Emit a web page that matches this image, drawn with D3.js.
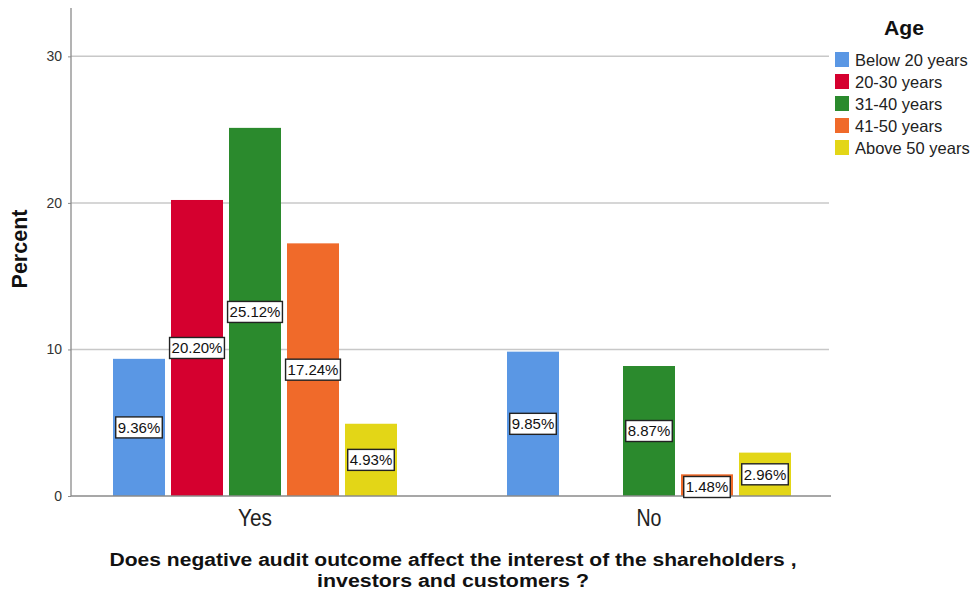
<!DOCTYPE html>
<html>
<head>
<meta charset="utf-8">
<script src="https://cdn.jsdelivr.net/npm/d3@7"></script>
<style>
  html, body { margin: 0; padding: 0; background: #fff; }
  svg { display: block; font-family: "Liberation Sans", Arial, sans-serif; }
</style>
</head>
<body>
<svg id="chart" width="976" height="592"></svg>
<script>
// Answer categories on the x axis
const answers = ["Yes", "No"];
// Age groups (clusters within each answer)
const ageGroups = ["Below 20 years", "20-30 years", "31-40 years", "41-50 years", "Above 50 years"];
const ageColors = ["#5a97e4", "#d5002f", "#2b8a2d", "#f06a2a", "#e3d617"];
// Percent of respondents; null = no respondents in that cell
const yesValues = [9.36, 20.20, 25.12, 17.24, 4.93];
const noValues  = [9.85, null, 8.87, 1.48, 2.96];
const yTicks = [0, 10, 20, 30];

const svg = d3.select("#chart");

const y = d3.scaleLinear().domain([0, 33.3]).range([496, 8]);
const x0 = d3.scaleBand().domain(answers).range([58, 846]).padding(0);
const x1 = d3.scaleBand().domain(ageGroups)
  .range([55, x0.bandwidth() - 55]).paddingInner(0.1034).paddingOuter(0);
const color = d3.scaleOrdinal().domain(ageGroups).range(ageColors);

const plotLeft = 71, plotRight = 830;

// gridlines
svg.append("g").selectAll("line")
  .data(yTicks.filter(d => d > 0))
  .join("line")
  .attr("x1", plotLeft).attr("x2", plotRight - 1)
  .attr("y1", d => y(d)).attr("y2", d => y(d))
  .attr("stroke", "#c8c8c8").attr("stroke-width", 1.5);

// y axis
const yAxis = svg.append("g")
  .attr("transform", `translate(${plotLeft},0)`)
  .call(d3.axisLeft(y).tickValues(yTicks).tickSize(3).tickPadding(6).tickFormat(d3.format("d")));
yAxis.select(".domain").attr("stroke", "#8a8a8a").attr("stroke-width", 1.3)
  .attr("d", `M0,${y(33.3)}V${y(0)}`);
yAxis.selectAll(".tick line").attr("stroke", "#8a8a8a");
yAxis.selectAll(".tick text").attr("fill", "#333").style("font-size", "14px")
  .style("font-family", "'Liberation Sans', Arial, sans-serif");

// data rows
const rows = [];
answers.forEach((a, i) => {
  const vals = i === 0 ? yesValues : noValues;
  ageGroups.forEach((g, j) => {
    if (vals[j] != null) rows.push({ answer: a, group: g, value: vals[j] });
  });
});

// bars
svg.append("g").selectAll("rect")
  .data(rows)
  .join("rect")
  .attr("x", d => x0(d.answer) + x1(d.group))
  .attr("width", x1.bandwidth())
  .attr("y", d => y(d.value))
  .attr("height", d => y(0) - y(d.value))
  .attr("fill", d => color(d.group));

// x baseline
svg.append("line")
  .attr("x1", plotLeft).attr("x2", plotRight + 1)
  .attr("y1", y(0)).attr("y2", y(0))
  .attr("stroke", "#8a8a8a").attr("stroke-width", 1.3);

// value labels in boxes at mid-height of each bar
const labels = svg.append("g").selectAll("g")
  .data(rows)
  .join("g")
  .attr("transform", d => {
    const cx = x0(d.answer) + x1(d.group) + x1.bandwidth() / 2;
    let cy = y(d.value / 2);
    if (y(0) - cy < 11) cy = y(0) - 9;
    return `translate(${cx},${cy})`;
  });
labels.append("text")
  .attr("text-anchor", "middle")
  .attr("dy", "0.36em")
  .style("font-size", "15px")
  .attr("fill", "#111")
  .text(d => d.value.toFixed(2) + "%");
labels.each(function () {
  const g = d3.select(this);
  const bb = g.select("text").node().getBBox();
  g.insert("rect", "text")
    .attr("x", bb.x - 2).attr("y", -10.5)
    .attr("width", bb.width + 4).attr("height", 21)
    .attr("fill", "#fff").attr("stroke", "#222").attr("stroke-width", 1.4);
});

// x tick labels (narrow, tall lettering)
const tickWidths = { Yes: 34, No: 25 };
svg.append("g").selectAll("text")
  .data(answers)
  .join("text")
  .attr("x", d => x0(d) + x0.bandwidth() / 2)
  .attr("y", 526)
  .attr("text-anchor", "middle")
  .attr("textLength", d => tickWidths[d])
  .attr("lengthAdjust", "spacingAndGlyphs")
  .style("font-size", "24px")
  .attr("fill", "#222")
  .text(d => d);

// axis titles
svg.append("text")
  .attr("transform", "translate(27,249) rotate(-90)")
  .attr("text-anchor", "middle")
  .style("font-size", "21.5px").style("font-weight", "bold")
  .attr("fill", "#111")
  .text("Percent");

const titleLines = [
  "Does negative audit outcome affect the interest of the shareholders ,",
  "investors and customers ?"
];
const titleWidths = [687, 272];
svg.append("g").selectAll("text")
  .data(titleLines)
  .join("text")
  .attr("x", 453)
  .attr("y", (d, i) => 566 + i * 21)
  .attr("text-anchor", "middle")
  .attr("textLength", (d, i) => titleWidths[i])
  .attr("lengthAdjust", "spacingAndGlyphs")
  .style("font-size", "18px").style("font-weight", "bold")
  .attr("fill", "#111")
  .text(d => d);

// legend
const legend = svg.append("g").attr("transform", "translate(835,0)");
legend.append("text")
  .attr("x", 69).attr("y", 35)
  .attr("text-anchor", "middle")
  .attr("textLength", 40)
  .attr("lengthAdjust", "spacingAndGlyphs")
  .style("font-size", "20px").style("font-weight", "bold")
  .attr("fill", "#111")
  .text("Age");
const items = legend.selectAll("g.item")
  .data(ageGroups)
  .join("g")
  .attr("class", "item")
  .attr("transform", (d, i) => `translate(0,${60 + i * 22})`);
items.append("rect")
  .attr("x", 0).attr("y", -8).attr("width", 14).attr("height", 15)
  .attr("fill", d => color(d));
items.append("text")
  .attr("x", 20).attr("y", 0).attr("dy", "0.35em")
  .style("font-size", "16.5px")
  .attr("fill", "#222")
  .text(d => d);
</script>
</body>
</html>
